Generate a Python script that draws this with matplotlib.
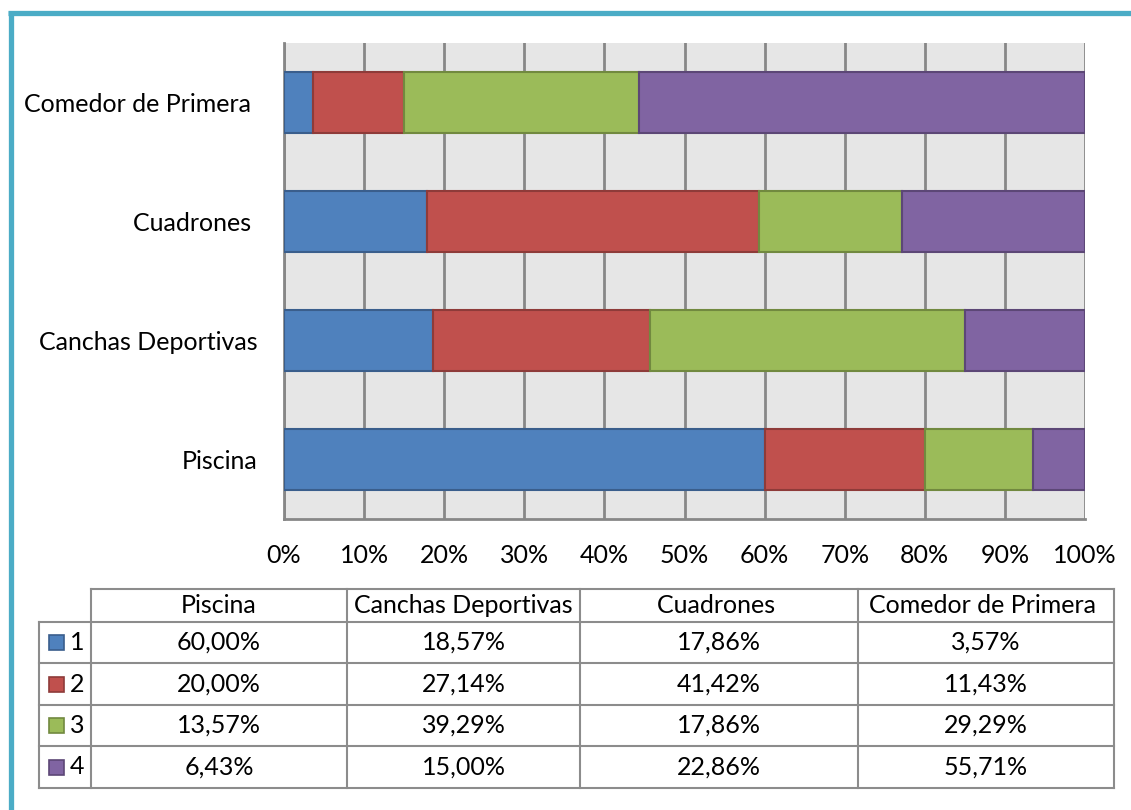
import matplotlib
matplotlib.use('Agg')
import matplotlib.pyplot as plt
from matplotlib.patches import Rectangle
from matplotlib.lines import Line2D

# ---------------- data ----------------
categories = ['Piscina', 'Canchas Deportivas', 'Cuadrones ', 'Comedor de Primera ']
series_names = ['1', '2', '3', '4']
s1 = [60.00, 18.57, 17.86, 3.57]
s2 = [20.00, 27.14, 41.42, 11.43]
s3 = [13.57, 39.29, 17.86, 29.29]
s4 = [6.43, 15.00, 22.86, 55.71]
xticks = [0, 10, 20, 30, 40, 50, 60, 70, 80, 90, 100]
xtick_labels = [f'{t}%' for t in xticks]

# ---------------- style ----------------
colors = ['#4F81BD', '#C0504D', '#9BBB59', '#8064A2']
edges = ['#3A5E8C', '#8E3B39', '#71893F', '#5C4776']
grid_c = '#878787'
table_c = '#8C8C8C'
frame_c = '#4BACC6'
FS = 18

plt.rcParams['font.family'] = ['Lato', 'DejaVu Sans']

W, H = 1131, 810
fig = plt.figure(figsize=(W / 100, H / 100), dpi=100)


def fx(px):
    return px / W


def fy(py):
    return 1 - py / H


# overlay axes in pixel coordinates for frame and table
ov = fig.add_axes([0, 0, 1, 1])
ov.set_xlim(0, W)
ov.set_ylim(H, 0)
ov.axis('off')

# chart axes
ax = fig.add_axes([fx(284), fy(519), fx(1085) - fx(284), fy(43) - fy(519)])
ax.set_facecolor('#E6E6E6')
series = [s1, s2, s3, s4]
ypos = list(range(len(categories)))
left = [0.0] * len(categories)
for vals, c, e in zip(series, colors, edges):
    ax.barh(ypos, vals, left=left, height=0.51, color=c, edgecolor=e,
            linewidth=1.5, zorder=3)
    left = [l + v for l, v in zip(left, vals)]
ax.set_xlim(0, 100)
ax.set_ylim(-0.5, len(categories) - 0.5)
ax.set_xticks(xticks)
ax.set_xticklabels(xtick_labels)
ax.set_yticks(ypos)
ax.set_yticklabels(categories)
ax.xaxis.grid(True, color=grid_c, linewidth=2)
ax.set_axisbelow(True)
for s in ['top', 'right']:
    ax.spines[s].set_visible(False)
for s in ['left', 'bottom']:
    ax.spines[s].set_color(grid_c)
    ax.spines[s].set_linewidth(2)
ax.tick_params(axis='x', length=0, labelsize=FS, pad=18)
ax.tick_params(axis='y', length=0, labelsize=FS, pad=19)

# frame (top and left teal lines)
ov.add_line(Line2D([8, W], [13, 13], color=frame_c, linewidth=3.8, solid_capstyle='butt'))
ov.add_line(Line2D([10.5, 10.5], [11, H], color=frame_c, linewidth=3.8, solid_capstyle='butt'))

# ---------------- data table ----------------
col_x = [39, 91, 347, 580, 858, 1114]
row_y = [589, 622, 663, 705, 746, 788]
lw = 1.5
ov.add_line(Line2D([col_x[1], col_x[-1]], [row_y[0], row_y[0]], color=table_c, lw=lw))
for y in row_y[1:]:
    ov.add_line(Line2D([col_x[0], col_x[-1]], [y, y], color=table_c, lw=lw))
ov.add_line(Line2D([col_x[0], col_x[0]], [row_y[1], row_y[-1]], color=table_c, lw=lw))
for x in col_x[1:]:
    ov.add_line(Line2D([x, x], [row_y[0], row_y[-1]], color=table_c, lw=lw))

# headers
for j, cat in enumerate(categories):
    cx = (col_x[j + 1] + col_x[j + 2]) / 2
    cy = (row_y[0] + row_y[1]) / 2
    ov.text(cx, cy, cat, ha='center', va='center', fontsize=FS)

# rows
for i, (name, vals, c, e) in enumerate(zip(series_names, series, colors, edges)):
    cy = (row_y[i + 1] + row_y[i + 2]) / 2
    ov.add_patch(Rectangle((48.5, cy - 7.5), 15, 15, facecolor=c, edgecolor=e, lw=1.2))
    ov.text(70, cy, name, ha='left', va='center', fontsize=FS)
    for j, v in enumerate(vals):
        cx = (col_x[j + 1] + col_x[j + 2]) / 2
        ov.text(cx, cy, f'{v:.2f}%'.replace('.', ','), ha='center', va='center', fontsize=FS)

fig.savefig('out.png', dpi=100, facecolor='white')
